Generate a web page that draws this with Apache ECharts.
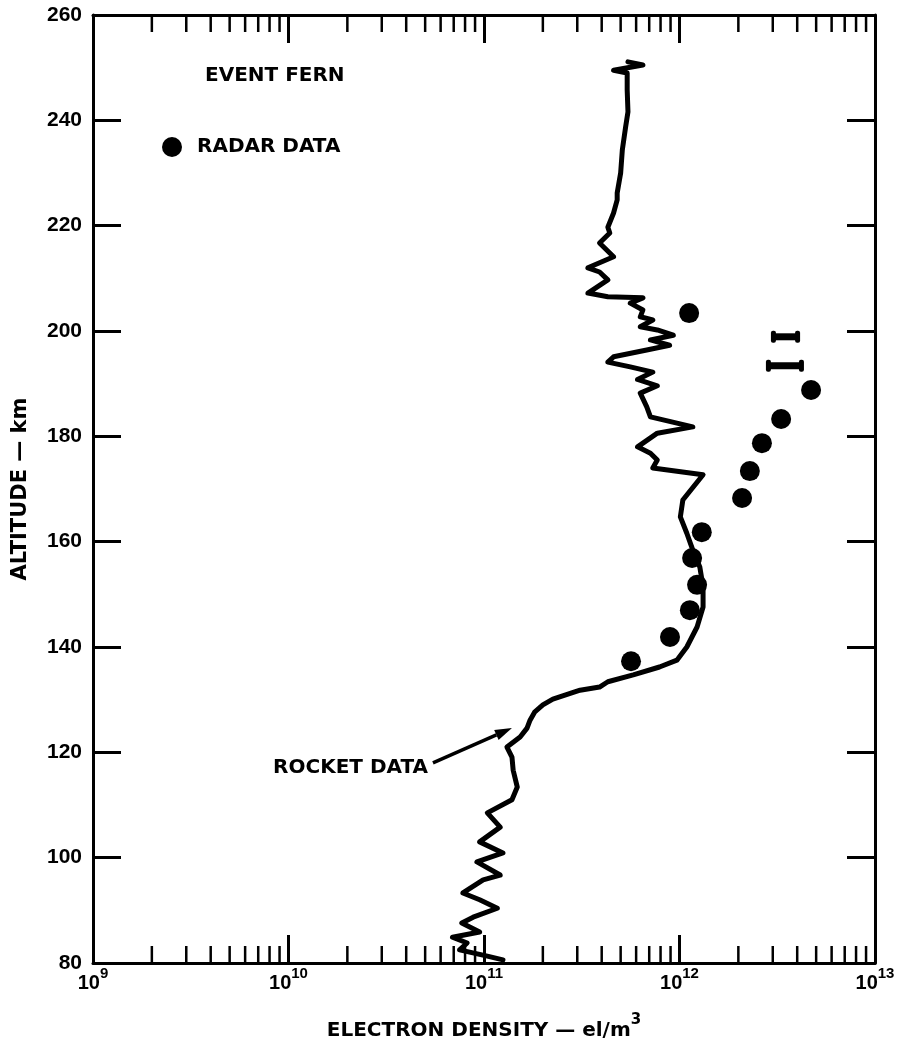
<!DOCTYPE html>
<html><head><meta charset="utf-8">
<script src="https://cdn.jsdelivr.net/npm/echarts@6/dist/echarts.min.js"></script>
<style>html,body{margin:0;padding:0;background:#fff}#c{width:904px;height:1052px}</style>
</head><body><div id="c"></div>
<script>
// Rocket profile (altitude km, electron density el/m^3), in drawing order
const rocketAltitude = [80.6,81.3,82.5,83.8,84.9,85.9,87.6,88.7,90.4,92.0,93.3,95.8,96.7,99.2,100.9,103.0,105.8,108.5,111.0,113.4,116.6,119.1,121.0,122.9,124.6,126.1,127.7,129.0,130.1,131.8,132.4,133.4,134.7,136.2,137.5,140.0,143.8,147.6,151.4,155.2,158.4,161.6,164.7,167.9,172.7,174.0,175.5,176.8,178.0,180.6,181.8,183.7,185.6,188.2,189.6,190.8,192.2,193.2,194.1,195.1,196.4,197.3,198.3,199.2,200.2,200.8,202.1,202.7,204.0,205.3,206.3,206.5,207.2,209.7,211.2,212.0,214.1,216.7,218.6,219.7,222.4,224.9,226.2,230.0,234.4,238.7,241.6,245.8,249.0,249.5,250.5,251.1];
const rocketDensity = [1.25e11,1.04e11,7.5e10,8.2e10,6.9e10,9.5e10,7.7e10,8.8e10,1.17e11,9.5e10,7.8e10,9.9e10,1.21e11,9.2e10,1.25e11,9.5e10,1.21e11,1.04e11,1.39e11,1.48e11,1.41e11,1.39e11,1.31e11,1.53e11,1.66e11,1.72e11,1.82e11,2.0e11,2.25e11,3.1e11,3.9e11,4.3e11,5.8e11,7.9e11,9.7e11,1.09e12,1.23e12,1.32e12,1.32e12,1.27e12,1.17e12,1.09e12,1.01e12,1.04e12,1.32e12,7.3e11,7.7e11,7.1e11,6.1e11,7.7e11,1.17e12,7.1e11,6.8e11,6.3e11,7.7e11,6.1e11,7.3e11,5.6e11,4.3e11,4.6e11,6.8e11,8.9e11,7.1e11,9.3e11,7.7e11,6.3e11,7.3e11,6.3e11,6.5e11,5.6e11,6.5e11,4.3e11,3.4e11,4.3e11,3.9e11,3.4e11,4.6e11,3.9e11,4.4e11,4.3e11,4.6e11,4.8e11,4.8e11,5.0e11,5.1e11,5.3e11,5.45e11,5.4e11,5.4e11,4.6e11,6.5e11,5.45e11];

// Radar points
const radarAltitude = [137.3,141.9,147.0,151.8,156.9,161.8,168.3,173.4,178.7,183.3,188.8,203.4];
const radarDensity = [5.65e11,8.94e11,1.13e12,1.23e12,1.16e12,1.30e12,2.09e12,2.29e12,2.64e12,3.31e12,4.71e12,1.12e12];

// Radar range bars
const rangeAltitude = [198.9,193.4];
const rangeLow = [2.97e12,2.80e12];
const rangeHigh = [4.09e12,4.28e12];

// Arrow for "ROCKET DATA" label: [density, altitude]
const arrowStart = [5.48e10,118.0];
const arrowEnd = [1.39e11,124.6];

// Axis ticks
const decadeExponents = [9,10,11,12,13];
const minorMultipliers = [2,3,4,5,6,7,8,9];
const altitudeTicks = [80,100,120,140,160,180,200,220,240,260];

const minorTicks = [];
decadeExponents.slice(0,-1).forEach(e => minorMultipliers.forEach(m => minorTicks.push(m*Math.pow(10,e))));

const labelFont = 'Liberation Sans';
const textFont = 'DejaVu Sans';

const chart = echarts.init(document.getElementById('c'), null, {renderer:'canvas'});

const axisLineStyle = {color:'#000', width:3};
const commonX = {
  type:'log', logBase:10, min:Math.pow(10,decadeExponents[0]), max:Math.pow(10,decadeExponents[decadeExponents.length-1]),
  splitLine:{show:false}, minorTick:{show:false},
  axisLine:{show:true, lineStyle:axisLineStyle},
  axisTick:{show:true, inside:true, length:28, lineStyle:{color:'#000', width:3}}
};
const commonY = {
  type:'value', min:altitudeTicks[0], max:altitudeTicks[altitudeTicks.length-1], interval:20,
  splitLine:{show:false},
  axisLine:{show:true, lineStyle:axisLineStyle},
  axisTick:{show:true, inside:true, length:28, lineStyle:{color:'#000', width:3}}
};

chart.setOption({
  animation:false,
  backgroundColor:'#fff',
  grid:{left:93, right:29, top:15, bottom:89, containLabel:false},
  legend:{
    data:['RADAR DATA'], left:162, top:137, padding:0,
    itemWidth:20, itemHeight:20, icon:'circle',
    itemStyle:{color:'#000', opacity:1},
    textStyle:{fontFamily:textFont, fontWeight:'bold', fontSize:20, color:'#000', padding:[0,0,0,10]}
  },
  xAxis:[
    Object.assign({}, commonX, {
      position:'bottom',
      axisLabel:{
        margin:3, color:'#000',
        formatter: v => '{b|10}{s|' + Math.round(Math.log10(v)) + '}',
        rich:{
          b:{fontFamily:labelFont, fontWeight:'bold', fontSize:20, color:'#000', verticalAlign:'bottom', lineHeight:27},
          s:{fontFamily:labelFont, fontWeight:'bold', fontSize:15, color:'#000', verticalAlign:'top', lineHeight:27}
        }
      },
      name:'{a|ELECTRON DENSITY — el/m}{s|3}',
      nameLocation:'middle', nameGap:50,
      nameTextStyle:{
        rich:{
          a:{fontFamily:textFont, fontWeight:'bold', fontSize:20, color:'#000', verticalAlign:'bottom', lineHeight:28},
          s:{fontFamily:textFont, fontWeight:'bold', fontSize:15, color:'#000', verticalAlign:'top', lineHeight:28}
        }
      }
    }),
    Object.assign({}, commonX, {position:'top', axisLabel:{show:false}})
  ],
  yAxis:[
    Object.assign({}, commonY, {
      position:'left',
      axisLabel:{margin:11, color:'#000', fontFamily:labelFont, fontWeight:'bold', fontSize:21},
      name:'ALTITUDE — km', nameLocation:'middle', nameRotate:90, nameGap:62,
      nameTextStyle:{fontFamily:textFont, fontWeight:'bold', fontSize:21, color:'#000'}
    }),
    Object.assign({}, commonY, {position:'right', axisLabel:{show:false}})
  ],
  graphic:[
    {type:'text', x:205, y:76, style:{text:'EVENT FERN', fontFamily:textFont, fontWeight:'bold', fontSize:20, fill:'#000', align:'left', verticalAlign:'middle'}},
    {type:'text', x:428, y:768, style:{text:'ROCKET DATA', fontFamily:textFont, fontWeight:'bold', fontSize:20, fill:'#000', align:'right', verticalAlign:'middle'}}
  ],
  series:[
    {
      type:'custom', name:'minorTicks', silent:true, clip:false, z:3,
      data:minorTicks.map(v => [v, altitudeTicks[0]]),
      encode:{x:0, y:1},
      renderItem:(params, api) => {
        const v = api.value(0);
        const b = api.coord([v, altitudeTicks[0]]);
        const t = api.coord([v, altitudeTicks[altitudeTicks.length-1]]);
        return {type:'group', children:[
          {type:'line', shape:{x1:b[0], y1:b[1], x2:b[0], y2:b[1]-17}, style:{stroke:'#000', lineWidth:2.5}},
          {type:'line', shape:{x1:t[0], y1:t[1], x2:t[0], y2:t[1]+17}, style:{stroke:'#000', lineWidth:2.5}}
        ]};
      }
    },
    {
      type:'line', name:'ROCKET DATA', symbol:'none', z:4,
      data:rocketDensity.map((d,i) => [d, rocketAltitude[i]]),
      lineStyle:{color:'#000', width:5, join:'round', cap:'round'}
    },
    {
      type:'custom', name:'arrow', silent:true, clip:false, z:4,
      data:[[arrowStart[0], arrowStart[1], arrowEnd[0], arrowEnd[1]]],
      encode:{x:[0,2], y:[1,3]},
      renderItem:(params, api) => {
        const a = api.coord([api.value(0), api.value(1)]);
        const b = api.coord([api.value(2), api.value(3)]);
        const dx = b[0]-a[0], dy = b[1]-a[1];
        const len = Math.sqrt(dx*dx+dy*dy), ux = dx/len, uy = dy/len;
        const hl = 17, hw = 5.5;
        const bx = b[0]-ux*hl, by = b[1]-uy*hl;
        return {type:'group', children:[
          {type:'line', shape:{x1:a[0], y1:a[1], x2:bx, y2:by}, style:{stroke:'#000', lineWidth:3.5}},
          {type:'polygon', shape:{points:[[b[0],b[1]],[bx-uy*hw, by+ux*hw],[bx+uy*hw, by-ux*hw]]}, style:{fill:'#000'}}
        ]};
      }
    },
    {
      type:'scatter', name:'RADAR DATA', symbol:'circle', symbolSize:20, z:5,
      itemStyle:{color:'#000', opacity:1},
      data:radarDensity.map((d,i) => [d, radarAltitude[i]])
    },
    {
      type:'custom', name:'ranges', z:5,
      data:rangeAltitude.map((a,i) => [rangeLow[i], rangeHigh[i], a]),
      encode:{x:[0,1], y:2},
      renderItem:(params, api) => {
        const p1 = api.coord([api.value(0), api.value(2)]);
        const p2 = api.coord([api.value(1), api.value(2)]);
        return {type:'group', children:[
          {type:'line', shape:{x1:p1[0], y1:p1[1], x2:p2[0], y2:p2[1]}, style:{stroke:'#000', lineWidth:7}},
          {type:'rect', shape:{x:p1[0]-1, y:p1[1]-6, width:5, height:12, r:2}, style:{fill:'#000'}},
          {type:'rect', shape:{x:p2[0]-4, y:p2[1]-6, width:5, height:12, r:2}, style:{fill:'#000'}}
        ]};
      }
    }
  ]
});
</script>
</body></html>
